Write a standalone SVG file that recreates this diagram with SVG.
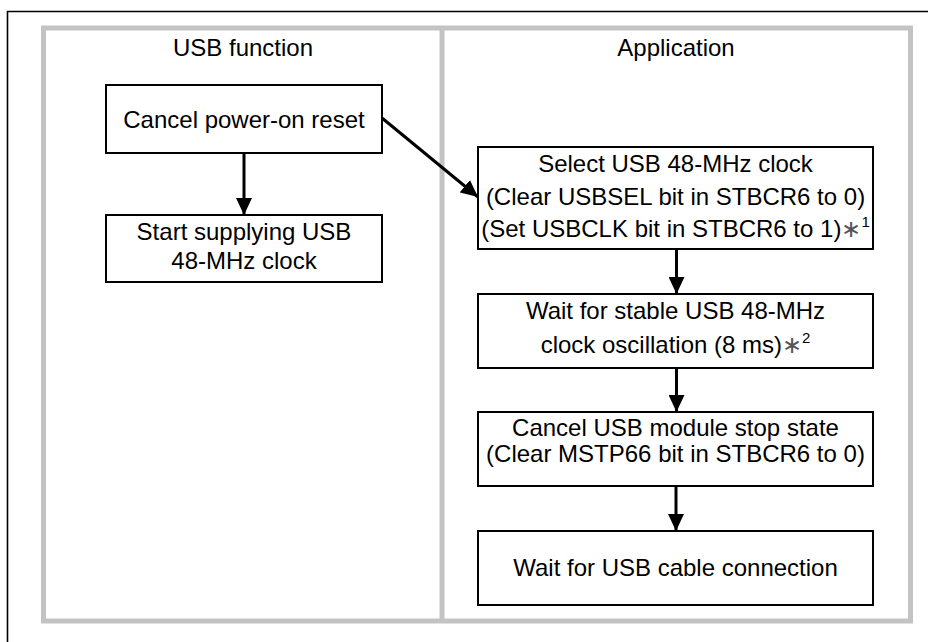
<svg xmlns="http://www.w3.org/2000/svg" width="928" height="642" viewBox="0 0 928 642">
  <style>
    .frame { fill: none; stroke: #000; stroke-width: 1.6; }
    .lane { fill: #fff; stroke: #c3c3c3; stroke-width: 5; }
    .divider { stroke: #c3c3c3; stroke-width: 5; }
    .box { fill: #fff; stroke: #000; stroke-width: 2; }
    .t { font-family: "Liberation Sans", Arial, sans-serif; font-size: 24px; fill: #000; text-anchor: middle; }
    .ast { fill: #555; }
    .sup { font-size: 15px; }
    .conn { stroke: #000; stroke-width: 3; fill: none; marker-end: url(#head); }
  </style>
  <defs>
    <marker id="head" viewBox="0 0 17 16" refX="17" refY="8" markerWidth="17" markerHeight="16" markerUnits="userSpaceOnUse" orient="auto">
      <path d="M0,0 L17,8 L0,16 Z" fill="#000"/>
    </marker>
  </defs>

  <rect width="928" height="642" fill="#fff"/>
  <!-- outer page frame (top and left edges) -->
  <path class="frame" d="M7.5,642 V11.5 H928"/>

  <!-- swimlanes -->
  <g id="lanes">
    <rect class="lane" x="43.5" y="28" width="867" height="593"/>
    <line class="divider" x1="442" y1="28" x2="442" y2="621"/>
    <text class="t" x="243" y="56">USB function</text>
    <text class="t" x="676" y="56">Application</text>
  </g>

  <g id="cancel-reset">
    <rect class="box" x="106" y="85" width="276" height="68"/>
    <text class="t" x="244" y="128">Cancel power-on reset</text>
  </g>

  <g id="start-supply">
    <rect class="box" x="106" y="215" width="276" height="67"/>
    <text class="t" x="244" y="240">Start supplying USB</text>
    <text class="t" x="244" y="269">48-MHz clock</text>
  </g>

  <g id="select-clock">
    <rect class="box" x="478" y="147" width="395" height="102"/>
    <text class="t" x="675.5" y="172">Select USB 48-MHz clock</text>
    <text class="t" x="675.5" y="205">(Clear USBSEL bit in STBCR6 to 0)</text>
    <text class="t" x="675.5" y="237">(Set USBCLK bit in STBCR6 to 1)<tspan class="ast">∗</tspan><tspan class="sup" dy="-10">1</tspan></text>
  </g>

  <g id="wait-stable">
    <rect class="box" x="478" y="294" width="395" height="74"/>
    <text class="t" x="675.5" y="319">Wait for stable USB 48-MHz</text>
    <text class="t" x="675.5" y="353">clock oscillation (8 ms)<tspan class="ast">∗</tspan><tspan class="sup" dy="-10">2</tspan></text>
  </g>

  <g id="cancel-stop">
    <rect class="box" x="478" y="412" width="395" height="74"/>
    <text class="t" x="675.5" y="436">Cancel USB module stop state</text>
    <text class="t" x="675.5" y="462">(Clear MSTP66 bit in STBCR6 to 0)</text>
  </g>

  <g id="wait-cable">
    <rect class="box" x="478" y="531" width="395" height="74"/>
    <text class="t" x="675.5" y="576">Wait for USB cable connection</text>
  </g>

  <g id="connectors">
    <line class="conn" x1="244" y1="153" x2="244" y2="215"/>
    <line class="conn" x1="382" y1="118" x2="478" y2="197"/>
    <line class="conn" x1="676.5" y1="249" x2="676.5" y2="294"/>
    <line class="conn" x1="676.5" y1="368" x2="676.5" y2="412"/>
    <line class="conn" x1="676" y1="486" x2="676" y2="531"/>
  </g>
</svg>
